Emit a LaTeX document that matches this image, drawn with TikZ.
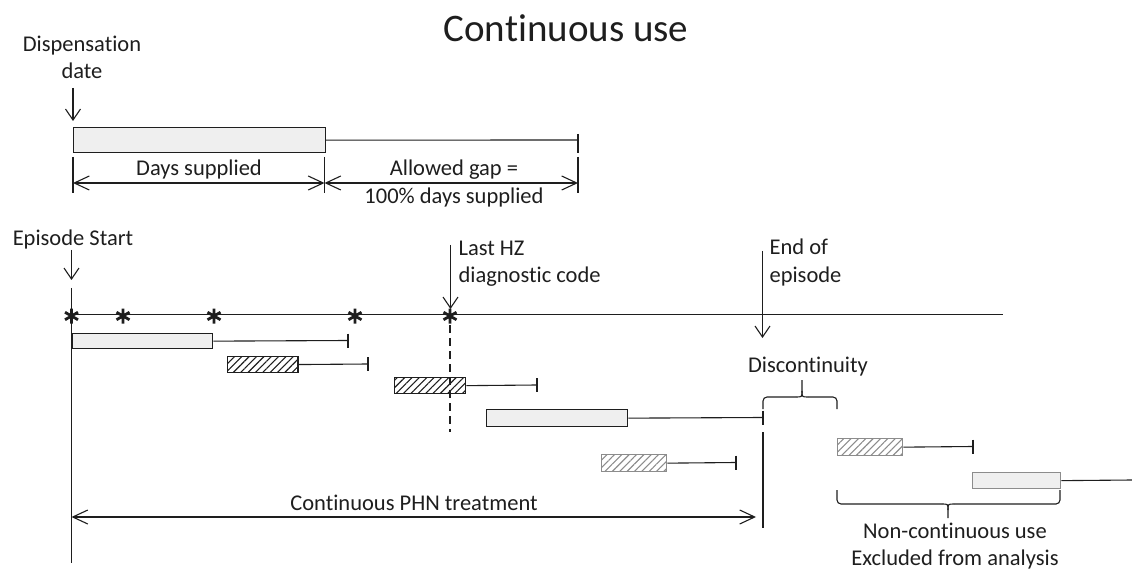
\documentclass[tikz,border=0pt]{standalone}
\usepackage{fontspec}
\setmainfont{Carlito}[Ligatures=NoCommon]
\usetikzlibrary{arrows.meta,patterns.meta}
\definecolor{boxgray}{HTML}{EFEFEF}
\definecolor{lightline}{HTML}{8C8C8C}
\definecolor{ink}{HTML}{1E1E1E}
\begin{document}
\begin{tikzpicture}[x=1pt,y=-1pt, line width=1.1pt, draw=ink,
  lbl/.style={font=\fontsize{22.5}{27}\selectfont, text=ink, inner sep=0pt, anchor=base},
  lblw/.style={lbl, anchor=base west},
  ttl/.style={font=\fontsize{39}{46}\selectfont, text=ink, inner sep=0pt, anchor=base},
  bar/.style={inner sep=0pt, anchor=north west, line width=1.3pt},
  supply/.style={bar, draw=ink, fill=boxgray},
  supplylight/.style={bar, draw=lightline, fill=boxgray},
  hatchdark/.style={bar, draw=ink, pattern={Lines[angle=45,distance=5.2pt,line width=1.1pt]}, pattern color=ink},
  hatchlight/.style={bar, draw=lightline, pattern={Lines[angle=45,distance=5.2pt,line width=1.1pt]}, pattern color=lightline},
  tipd/.style={-{Straight Barb[length=11pt,width=15pt]}},
  dbl/.style={{Straight Barb[length=15pt,width=14pt]}-{Straight Barb[length=15pt,width=14pt]}},
  hzmark/.pic={\draw[line width=2.8pt] (0,-7.5)--(0,7.5) (-6.5,-3.75)--(6.5,3.75) (-6.5,3.75)--(6.5,-3.75);}
]
\useasboundingbox (0,0) rectangle (1132,569);

% title
\node[ttl] (title) at (566,42) {Continuous use};

% ---- top explanation ----
\node[lbl] (disp1) at (82,52) {Dispensation};
\node[lbl] (disp2) at (82,79) {date};
\node[supply, minimum width=251.5pt, minimum height=25pt] (d0) at (73,127) {};
\coordinate (da) at (73,88);
\coordinate (dat) at (73,121);
\draw[tipd] (da) -- (dat);
\coordinate (g0) at (578,140);
\draw (d0.east) -- (g0);
\draw (578,134) -- (578,153);
\draw (73,157) -- (73,193);
\draw (324.5,157) -- (324.5,193);
\draw (578,157) -- (578,193);
\coordinate (a0) at (73,183);
\coordinate (a1) at (324.5,183);
\coordinate (a2) at (578,183);
\draw[dbl] (a0) -- (a1);
\draw[dbl] (a1) -- (a2);
\node[lbl] (days) at (199,176) {Days supplied};
\node[lbl] (gap1) at (454,176) {Allowed gap =};
\node[lbl] (gap2) at (454,204) {100\% days supplied};

% ---- episode ----
\node[lbl] (epi) at (73,246) {Episode Start};
\coordinate (ea0) at (71.5,250);
\coordinate (ea1) at (71.5,280);
\draw[tipd] (ea0) -- (ea1);
\coordinate (ev0) at (71.5,288);
\coordinate (ev1) at (71.5,563);
\draw (ev0) -- (ev1);

% timeline
\coordinate (tl0) at (71.5,314.5);
\coordinate (tl1) at (1003,314.5);
\draw (tl0) -- (tl1);
\foreach \x in {71.5,123,214,355,450}{\pic at (\x,316) {hzmark};}

% last HZ
\node[lblw] (hz1) at (458,256) {Last HZ};
\node[lblw] (hz2) at (458,283) {diagnostic code};
\coordinate (hza) at (450.5,245);
\coordinate (hzb) at (450.5,309);
\draw[tipd] (hza) -- (hzb);
\coordinate (hzd0) at (450,325);
\coordinate (hzd1) at (450,432);
\draw[dashed, dash pattern=on 8pt off 5pt, line width=1.2pt] (hzd0) -- (hzd1);

% end of episode
\node[lblw] (eoe1) at (769,255) {End of};
\node[lblw] (eoe2) at (769,283) {episode};
\coordinate (eoa) at (762.5,251);
\coordinate (eob) at (762.5,338);
\draw[tipd] (eoa) -- (eob);

% ---- supply rows ----
\node[supply, minimum width=140.5pt, minimum height=15pt] (r1) at (71.5,333) {};
\coordinate (r1e) at (348,340.5);
\draw (r1.east) -- (r1e);
\draw (348,333.5) -- (348,347.5);

\node[hatchdark, minimum width=70.5pt, minimum height=16pt] (r2) at (227,356) {};
\coordinate (r2e) at (368,364);
\draw (r2.east) -- (r2e);
\draw (368,357) -- (368,371);

\node[hatchdark, minimum width=71pt, minimum height=16pt] (r3) at (394,377) {};
\coordinate (r3e) at (537,385);
\draw (r3.east) -- (r3e);
\draw (537,378) -- (537,392);

\node[supply, minimum width=141pt, minimum height=17pt] (r4) at (486,409) {};
\coordinate (r4e) at (763,417.5);
\draw (r4.east) -- (r4e);
\draw (763,410.5) -- (763,424.5);

\node[hatchlight, minimum width=65pt, minimum height=17pt] (r5) at (601,454) {};
\coordinate (r5e) at (736,462.5);
\draw (r5.east) -- (r5e);
\draw (736,455.5) -- (736,469.5);

\node[hatchlight, minimum width=65pt, minimum height=17pt] (r6) at (837,438) {};
\coordinate (r6e) at (973,446.5);
\draw (r6.east) -- (r6e);
\draw (973,439.5) -- (973,453.5);

\node[supplylight, minimum width=88pt, minimum height=16pt] (r7) at (972,472) {};
\coordinate (r7e) at (1132,480);
\draw (r7.east) -- (r7e);

% end-of-episode vertical
\coordinate (ve0) at (763,432);
\coordinate (ve1) at (763,528);
\draw (ve0) -- (ve1);

% discontinuity
\node[lbl] (disc) at (808,372) {Discontinuity};
\draw[rounded corners=4pt] (763,409) |- (796,397);
\draw (796,397) .. controls (802,397) .. (802,391) -- (802,380);
\draw (802,391) .. controls (802,397) .. (808,397);
\draw[rounded corners=4pt] (808,397) -| (837,409);

% continuous PHN
\coordinate (ph0) at (71.5,517);
\coordinate (ph1) at (756,517);
\draw[dbl] (ph0) -- (ph1);
\node[lbl] (phn) at (414,510) {Continuous PHN treatment};

% non-continuous
\draw[rounded corners=4pt] (837,490) |- (942,504);
\draw (942,504) .. controls (948,504) .. (948,510) -- (948,518);
\draw (948,510) .. controls (948,504) .. (954,504);
\draw[rounded corners=4pt] (954,504) -| (1060,490);
\node[lbl] (nc1) at (955,538) {Non-continuous use};
\node[lbl] (nc2) at (955,565) {Excluded from analysis};
\end{tikzpicture}
\end{document}
